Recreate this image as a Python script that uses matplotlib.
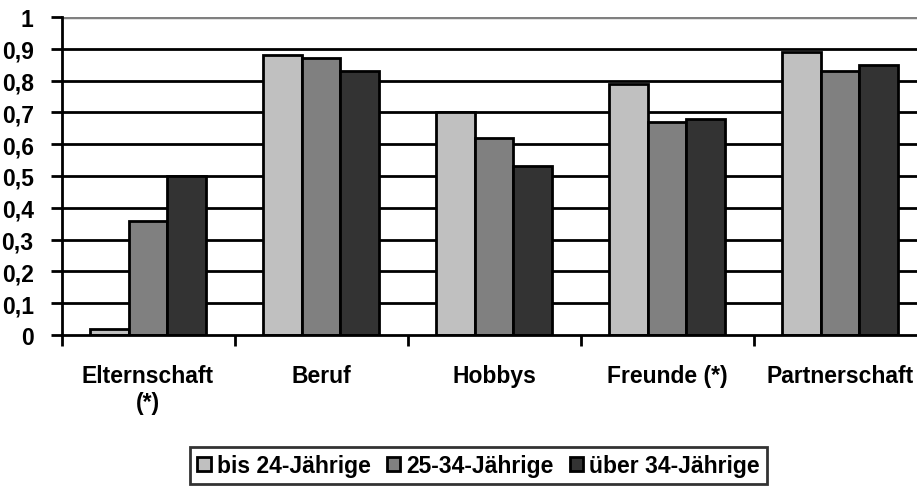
import matplotlib
matplotlib.use("Agg")
import matplotlib.pyplot as plt
import numpy as np

categories = ["Elternschaft\n(*)", "Beruf", "Hobbys", "Freunde (*)", "Partnerschaft"]
series_names = ["bis 24-Jährige", "25-34-Jährige", "über 34-Jährige"]
bis24 = [0.02, 0.88, 0.70, 0.79, 0.89]
mid25_34 = [0.36, 0.87, 0.62, 0.67, 0.83]
ueber34 = [0.50, 0.83, 0.53, 0.68, 0.85]
yticks = [0, 0.1, 0.2, 0.3, 0.4, 0.5, 0.6, 0.7, 0.8, 0.9, 1]
yticklabels = ["0", "0,1", "0,2", "0,3", "0,4", "0,5", "0,6", "0,7", "0,8", "0,9", "1"]

colors = ["#C0C0C0", "#808080", "#333333"]

plt.rcParams['font.family'] = ['Liberation Sans', 'DejaVu Sans']
plt.rcParams['font.weight'] = 'bold'
FS = 16.5

W, H = 917, 489
fig = plt.figure(figsize=(W / 100, H / 100), dpi=100)
ax = fig.add_axes([61.5 / W, 1 - 336 / H, 865 / W, 318 / H])

x = np.arange(len(categories))
bw = 0.222
data = [bis24, mid25_34, ueber34]
for i, (vals, c, name) in enumerate(zip(data, colors, series_names)):
    ax.bar(x + (i - 1) * bw, vals, width=bw, color=c, edgecolor="black",
           linewidth=2, label=name, zorder=3)

ax.set_xlim(-0.5, len(categories) - 0.5)
ax.set_ylim(0, 1)
ax.set_yticks(yticks)
ax.set_yticklabels(yticklabels, fontsize=FS, fontweight='bold')
for yv in yticks[1:-1]:
    ax.axhline(yv, color="black", linewidth=2, zorder=1)
ax.axhline(1, color="#808080", linewidth=2.5, zorder=1)

ax.set_xticks(np.arange(len(categories) + 1) - 0.5, minor=False)
ax.set_xticklabels([])
ax.set_xticks(x, minor=True)
ax.set_xticklabels(categories, minor=True, fontsize=FS, fontweight='bold')
ax.tick_params(axis='x', which='major', direction='out', length=8, width=2)
ax.tick_params(axis='x', which='minor', length=0, pad=21)
ax.tick_params(axis='y', direction='out', length=8, width=2, pad=12)

for s in ["top", "right"]:
    ax.spines[s].set_visible(False)
for s in ["left", "bottom"]:
    ax.spines[s].set_linewidth(2)
    ax.spines[s].set_zorder(4)

leg = fig.legend(loc="center", bbox_to_anchor=(478.5 / W, 1 - 466.5 / H), ncol=3,
                 frameon=True, fancybox=False, shadow=False,
                 prop={'size': FS, 'weight': 'bold'},
                 handlelength=0.6, handleheight=0.6, handletextpad=0.25,
                 columnspacing=0.7, borderpad=0.3, borderaxespad=0)
leg.get_frame().set_edgecolor("black")
leg.get_frame().set_linewidth(2)
for h in leg.legend_handles:
    h.set_linewidth(2)

fig.savefig("out.png", dpi=100)
